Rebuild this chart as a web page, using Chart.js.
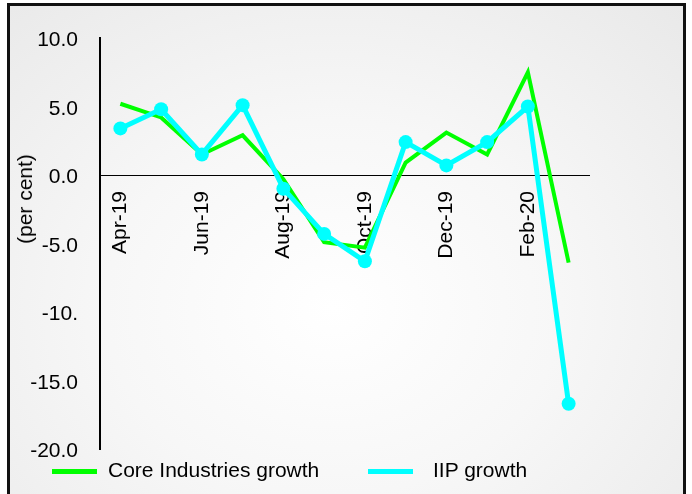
<!DOCTYPE html>
<html>
<head>
  <title>Core Industries and IIP growth</title>
  <script src="https://cdn.jsdelivr.net/npm/chart.js"></script>
  <style>
    body {
      margin: 0;
      background-color: #fff;
      font-family: "Liberation Sans", Arial, sans-serif;
      overflow: hidden;
    }

    .frame {
      position: absolute;
      left: 7px;
      top: 3px;
      width: 673px;
      height: 520px;
      border: 3px solid #111;
      background: radial-gradient(ellipse 75% 80% at 48% 58%, #ffffff 0%, #f7f7f7 45%, #e9e9e9 100%);
    }

    .chart-box {
      position: absolute;
      left: 0;
      top: 0;
      width: 692px;
      height: 494px;
    }

    .y-title {
      position: absolute;
      left: 25px;
      top: 199px;
      transform: translate(-50%, -50%) rotate(-90deg);
      font-size: 21px;
      white-space: nowrap;
      color: #000;
    }

    .legend-line {
      position: absolute;
      top: 469px;
      width: 45px;
      height: 5px;
    }

    .legend-text {
      position: absolute;
      top: 458px;
      font-size: 21px;
      line-height: 24px;
      white-space: nowrap;
      color: #000;
    }
  </style>
</head>
<body>
<div class="frame"></div>
<div class="chart-box">
  <canvas id="lineChart"></canvas>
</div>
<div class="y-title">(per cent)</div>
<div id="legend"></div>

<script>
  // data
  const months = ['Apr-19', 'May-19', 'Jun-19', 'Jul-19', 'Aug-19', 'Sep-19',
                  'Oct-19', 'Nov-19', 'Dec-19', 'Jan-20', 'Feb-20', 'Mar-20'];
  const coreGrowth = [5.2, 4.2, 1.5, 2.9, -0.3, -4.9, -5.3, 0.9, 3.1, 1.5, 7.5, -6.4];
  const iipGrowth = [3.4, 4.8, 1.5, 5.1, -1.0, -4.3, -6.3, 2.4, 0.7, 2.4, 5.0, -16.7];
  const yTickValues = [10, 5, 0, -5, -10, -15, -20];
  const yTickLabels = ['10.0', '5.0', '0.0', '-5.0', '-10.', '-15.0', '-20.0'];

  const seriesNames = ['Core Industries growth', 'IIP growth'];
  const seriesColors = ['#00ff00', '#00ffff'];

  // legend drawn as html below the plot
  const legendLinePos = [52, 368];
  const legendTextPos = [108, 433];
  const legend = document.getElementById('legend');
  seriesNames.forEach((name, i) => {
    const line = document.createElement('div');
    line.className = 'legend-line';
    line.style.left = legendLinePos[i] + 'px';
    line.style.backgroundColor = seriesColors[i];
    const text = document.createElement('div');
    text.className = 'legend-text';
    text.style.left = legendTextPos[i] + 'px';
    text.textContent = name;
    legend.appendChild(line);
    legend.appendChild(text);
  });

  const tickFont = { family: '"Liberation Sans", Arial, sans-serif', size: 21 };

  // IIP first so it is painted over the core line
  new Chart(document.getElementById('lineChart').getContext('2d'), {
    type: 'line',
    data: {
      labels: months,
      datasets: [
        {
          label: seriesNames[1],
          data: iipGrowth,
          borderColor: seriesColors[1],
          backgroundColor: seriesColors[1],
          borderWidth: 5,
          pointRadius: 7,
          pointBorderWidth: 0,
          pointBackgroundColor: seriesColors[1],
          tension: 0
        },
        {
          label: seriesNames[0],
          data: coreGrowth,
          borderColor: seriesColors[0],
          backgroundColor: seriesColors[0],
          borderWidth: 4,
          pointRadius: 0,
          tension: 0
        }
      ]
    },
    options: {
      responsive: true,
      maintainAspectRatio: false,
      animation: false,
      devicePixelRatio: 1,
      layout: { padding: { left: 0, top: 38, right: 103, bottom: 45 } },
      plugins: {
        legend: { display: false },
        tooltip: { enabled: false }
      },
      scales: {
        x: {
          position: { y: 0 },
          offset: true,
          grid: { display: false, drawTicks: false },
          border: { display: true, color: '#000', width: 1 },
          ticks: {
            autoSkip: false,
            minRotation: 90,
            maxRotation: 90,
            padding: 16,
            color: '#000',
            font: tickFont,
            callback: (v, i) => i % 2 === 0 ? months[i] : ''
          }
        },
        y: {
          min: -20,
          max: 10,
          afterFit: scale => { scale.width = 100; },
          grid: { display: false, drawTicks: false },
          border: { display: true, color: '#000', width: 2 },
          ticks: {
            stepSize: 5,
            padding: 22,
            labelOffset: 2.5,
            color: '#000',
            font: tickFont,
            callback: v => {
              const k = yTickValues.indexOf(v);
              return k >= 0 ? yTickLabels[k] : '';
            }
          }
        }
      }
    }
  });
</script>
</body>
</html>
